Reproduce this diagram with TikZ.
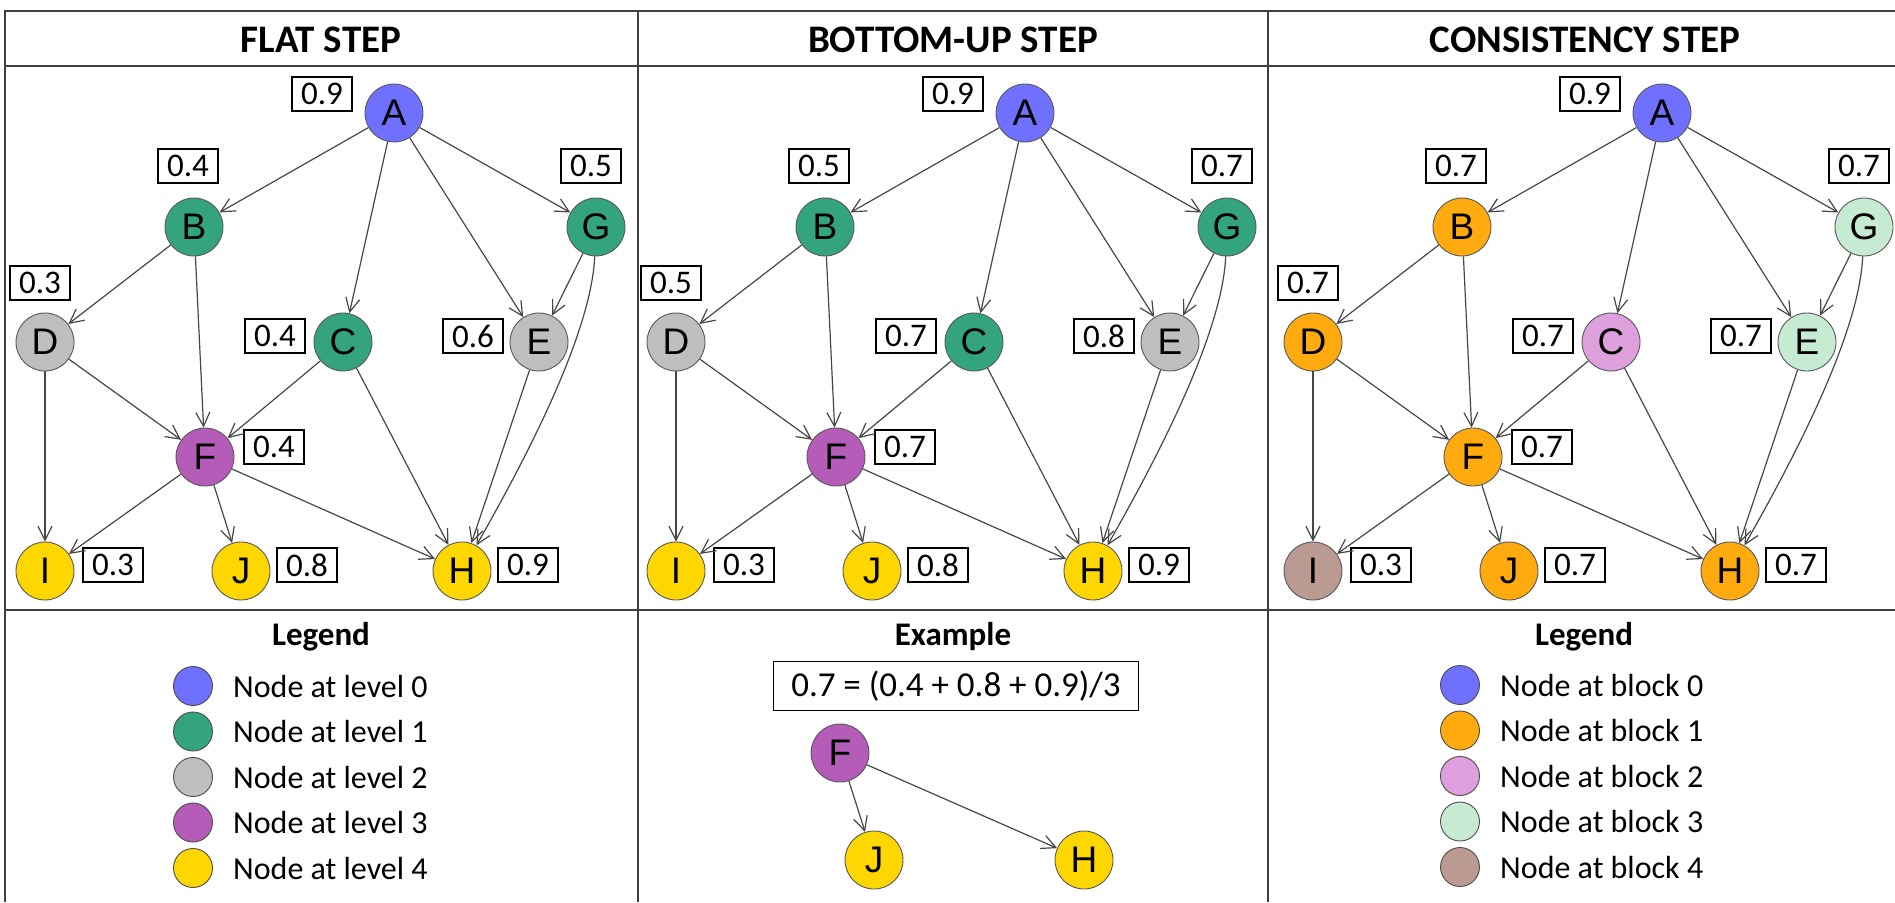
\documentclass[tikz,border=0pt]{standalone}
\usepackage{fontspec}
\setmainfont{Carlito}
\newfontfamily\letterfont{Liberation Sans}
\usetikzlibrary{arrows.meta}

% node colours: hierarchy levels and consistency blocks
\definecolor{lvlzero}{HTML}{7070FF}
\definecolor{lvlone}{HTML}{33A47F}
\definecolor{lvltwo}{HTML}{BEBEBE}
\definecolor{lvlthree}{HTML}{B45CB8}
\definecolor{lvlfour}{HTML}{FFD700}
\definecolor{blkone}{HTML}{FFAB0F}
\definecolor{blktwo}{HTML}{DDA0DD}
\definecolor{blkthree}{HTML}{C6EBD2}
\definecolor{blkfour}{HTML}{BB9A91}
\definecolor{rulegray}{HTML}{404040}
\definecolor{edgegray}{HTML}{474747}

\tikzset{
  vtx/.style={circle, draw=black!65, line width=0.9pt, minimum size=58pt,
    inner sep=0pt, font=\letterfont\fontsize{37}{37}\selectfont},
  score/.style={draw=black, line width=1.3pt, minimum width=60pt,
    minimum height=34pt, inner sep=0pt, font=\fontsize{33}{33}\selectfont},
  edge/.style={draw=edgegray, line width=1.2pt,
    -{Straight Barb[length=14pt,width=14pt]}},
  legdot/.style={circle, draw=black!70, line width=0.9pt, minimum size=39pt,
    inner sep=0pt},
  legtext/.style={anchor=west, inner sep=0pt, font=\fontsize{32}{32}\selectfont},
  head/.style={anchor=base, inner sep=0pt, font=\bfseries\fontsize{39}{39}\selectfont},
  subhead/.style={anchor=base, inner sep=0pt, font=\bfseries\fontsize{33}{33}\selectfont},
  tablerule/.style={draw=rulegray, line width=1.6pt},
}

% colour and score of one vertex of the hierarchy
\newcommand\setnode[3]{%
  \expandafter\gdef\csname col#1\endcsname{#2}%
  \expandafter\gdef\csname val#1\endcsname{#3}}

% the ten-vertex hierarchy with its scores
\newcommand\graphpanel{%
  \node[vtx, fill=\colA] (A) at (394,113) {A};
  \node[vtx, fill=\colB] (B) at (194,227) {B};
  \node[vtx, fill=\colG] (G) at (596,227) {G};
  \node[vtx, fill=\colD] (D) at (45,342) {D};
  \node[vtx, fill=\colC] (C) at (343,342) {C};
  \node[vtx, fill=\colE] (E) at (539,342) {E};
  \node[vtx, fill=\colF] (F) at (205,457) {F};
  \node[vtx, fill=\colI] (I) at (45,571) {I};
  \node[vtx, fill=\colJ] (J) at (241,571) {J};
  \node[vtx, fill=\colH] (H) at (462,571) {H};
  \node[score] (sA) at (322,94) {\valA};
  \node[score] (sB) at (188,166) {\valB};
  \node[score] (sG) at (591,166) {\valG};
  \node[score] (sD) at (40,283) {\valD};
  \node[score] (sC) at (275,336) {\valC};
  \node[score] (sE) at (473,336) {\valE};
  \node[score] (sF) at (274,447) {\valF};
  \node[score] (sI) at (113,565) {\valI};
  \node[score] (sJ) at (307,565) {\valJ};
  \node[score] (sH) at (528,565) {\valH};
  \draw[edge] (A) -- (B);
  \draw[edge] (A) -- (C);
  \draw[edge] (A) -- (E);
  \draw[edge] (A) -- (G);
  \draw[edge] (B) -- (D);
  \draw[edge] (B) -- (F);
  \draw[edge] (G) -- (E);
  \draw[edge] (G) .. controls +(-5,115) and +(48,-85) .. (H);
  \draw[edge] (D) -- (F);
  \draw[edge] (D) -- (I);
  \draw[edge] (C) -- (F);
  \draw[edge] (C) -- (H);
  \draw[edge] (E) -- (H);
  \draw[edge] (F) -- (I);
  \draw[edge] (F) -- (J);
  \draw[edge] (F) -- (H);
}

\begin{document}
\begin{tikzpicture}[x=1pt, y=-1pt]
  \useasboundingbox[fill=white] (0,0) rectangle (1895,902);

  % table frame
  \draw[tablerule] (5,902) -- (5,11) -- (1895,11);
  \draw[tablerule] (5,66) -- (1895,66);
  \draw[tablerule] (5,610) -- (1895,610);
  \draw[tablerule] (638,11) -- (638,902);
  \draw[tablerule] (1268,11) -- (1268,902);

  % column headers
  \node[head] (hflat) at (321,52) {FLAT STEP};
  \node[head] (hbottom) at (953,52) {BOTTOM-UP STEP};
  \node[head] (hcons) at (1585,52) {CONSISTENCY STEP};

  % flat step
  \begin{scope}[name prefix=flat-]
    \setnode{A}{lvlzero}{0.9}
    \setnode{B}{lvlone}{0.4}
    \setnode{C}{lvlone}{0.4}
    \setnode{G}{lvlone}{0.5}
    \setnode{D}{lvltwo}{0.3}
    \setnode{E}{lvltwo}{0.6}
    \setnode{F}{lvlthree}{0.4}
    \setnode{I}{lvlfour}{0.3}
    \setnode{J}{lvlfour}{0.8}
    \setnode{H}{lvlfour}{0.9}
    \graphpanel
  \end{scope}

  % bottom-up step
  \begin{scope}[shift={(631,0)}, name prefix=bu-]
    \setnode{A}{lvlzero}{0.9}
    \setnode{B}{lvlone}{0.5}
    \setnode{C}{lvlone}{0.7}
    \setnode{G}{lvlone}{0.7}
    \setnode{D}{lvltwo}{0.5}
    \setnode{E}{lvltwo}{0.8}
    \setnode{F}{lvlthree}{0.7}
    \setnode{I}{lvlfour}{0.3}
    \setnode{J}{lvlfour}{0.8}
    \setnode{H}{lvlfour}{0.9}
    \graphpanel
  \end{scope}

  % consistency step
  \begin{scope}[shift={(1268,0)}, name prefix=cons-]
    \setnode{A}{lvlzero}{0.9}
    \setnode{B}{blkone}{0.7}
    \setnode{C}{blktwo}{0.7}
    \setnode{G}{blkthree}{0.7}
    \setnode{D}{blkone}{0.7}
    \setnode{E}{blkthree}{0.7}
    \setnode{F}{blkone}{0.7}
    \setnode{I}{blkfour}{0.3}
    \setnode{J}{blkone}{0.7}
    \setnode{H}{blkone}{0.7}
    \graphpanel
  \end{scope}

  % legend of levels
  \node[subhead] (legone) at (321,645) {Legend};
  \foreach \c/\t [count=\k from 0] in {lvlzero/0, lvlone/1, lvltwo/2, lvlthree/3, lvlfour/4} {
    \node[legdot, fill=\c] (ldot\k) at (193,{686+45.5*\k}) {};
    \node[legtext] (ltxt\k) at (233,{686+45.5*\k}) {Node at level \t};
  }

  % worked example of the bottom-up average
  \node[subhead] (exhead) at (953,645) {Example};
  \node[draw=black, line width=1.3pt, minimum width=365pt, minimum height=49pt,
    inner sep=0pt, font=\fontsize{35}{35}\selectfont] (exbox) at (956,686)
    {0.7 = (0.4 + 0.8 + 0.9)/3};
  \node[vtx, fill=lvlthree] (exF) at (840,753) {F};
  \node[vtx, fill=lvlfour] (exJ) at (874,860) {J};
  \node[vtx, fill=lvlfour] (exH) at (1084,860) {H};
  \draw[edge] (exF) -- (exJ);
  \draw[edge] (exF) -- (exH);

  % legend of blocks
  \node[subhead] (legtwo) at (1584,645) {Legend};
  \foreach \c/\t [count=\k from 0] in {lvlzero/0, blkone/1, blktwo/2, blkthree/3, blkfour/4} {
    \node[legdot, fill=\c] (bdot\k) at (1460,{685+45.5*\k}) {};
    \node[legtext] (btxt\k) at (1500,{685+45.5*\k}) {Node at block \t};
  }
\end{tikzpicture}
\end{document}
